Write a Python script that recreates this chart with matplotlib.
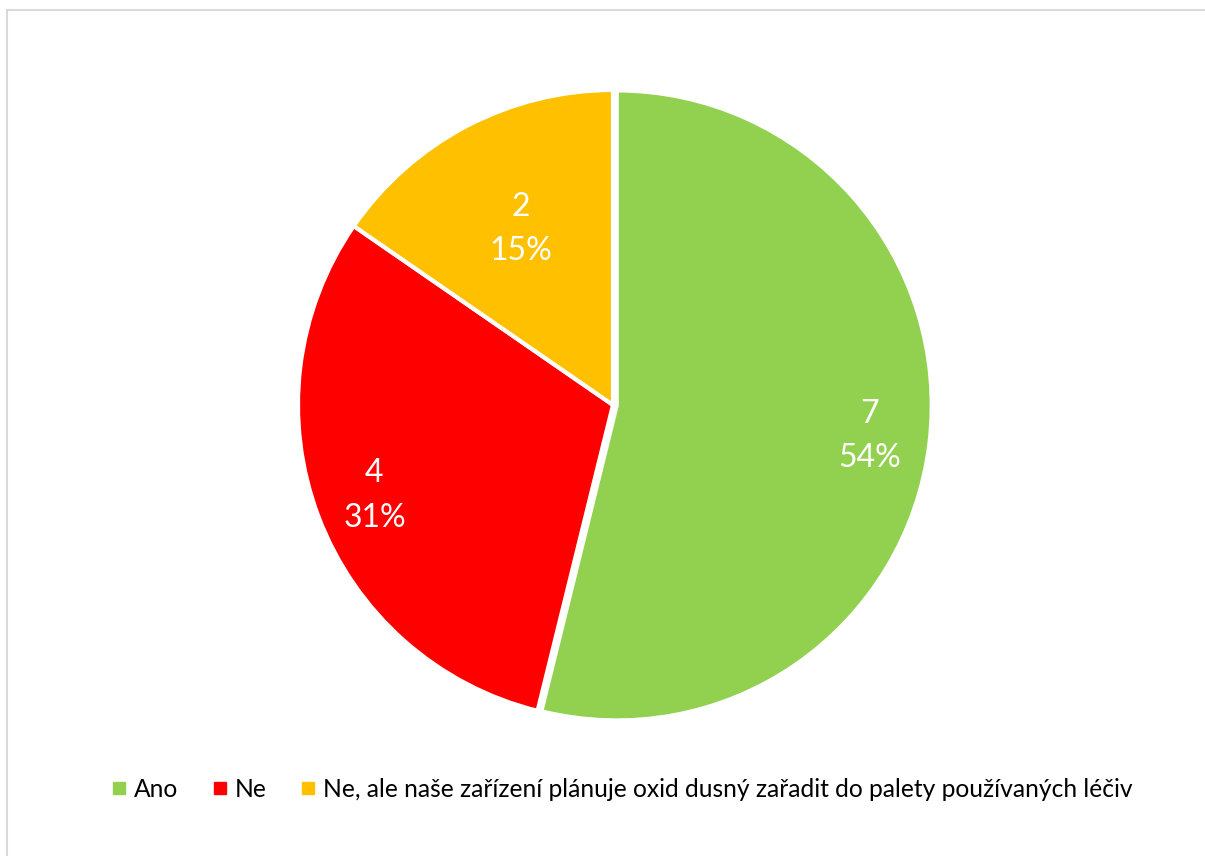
import matplotlib.pyplot as plt
from matplotlib.patches import Rectangle
from matplotlib.lines import Line2D
import numpy as np

# Data
labels = ["Ano", "Ne", "Ne, ale naše zařízení plánuje oxid dusný zařadit do palety používaných léčiv"]
counts = [7, 4, 2]
colors = ["#92D050", "#FF0000", "#FFC000"]
label_dist = [0.82, 0.81, 0.63]

plt.rcParams['font.family'] = ['Lato', 'DejaVu Sans']

fig = plt.figure(figsize=(12.05, 8.56), dpi=100)
ax = fig.add_axes([0.2473, 0.1589, 0.5228, 0.736])

wedges, _ = ax.pie(counts, colors=colors, startangle=90, counterclock=False,
                   explode=[0.012, 0, 0],
                   wedgeprops=dict(edgecolor='white', linewidth=3))
ax.set_xlim(-1, 1)
ax.set_ylim(-1, 1)
ax.set_aspect('equal')
ax.axis('off')

# Value + percent labels inside each slice
total = sum(counts)
for w, n, d in zip(wedges, counts, label_dist):
    ang = np.deg2rad((w.theta1 + w.theta2) / 2)
    pct = round(100 * n / total)
    ax.text(d * np.cos(ang), d * np.sin(ang), f"{n}\n{pct}%", ha='center', va='center',
            color='white', fontsize=23, linespacing=1.6)

handles = [Line2D([], [], marker='s', linestyle='', markersize=8, color=c) for c in colors]
fig.legend(handles, labels, loc='center', bbox_to_anchor=(0.516, 0.078), ncol=3,
           frameon=False, fontsize=17.7, handletextpad=0.25, columnspacing=1.35,
           handlelength=0.7)

# Light chart frame
fig.patches.append(Rectangle((7 / 1205, -0.05), 1.1, 846 / 856 + 0.05,
                             transform=fig.transFigure, fill=False,
                             edgecolor='#D9D9D9', linewidth=1.5))

plt.savefig('out.png', dpi=100)
plt.close()
